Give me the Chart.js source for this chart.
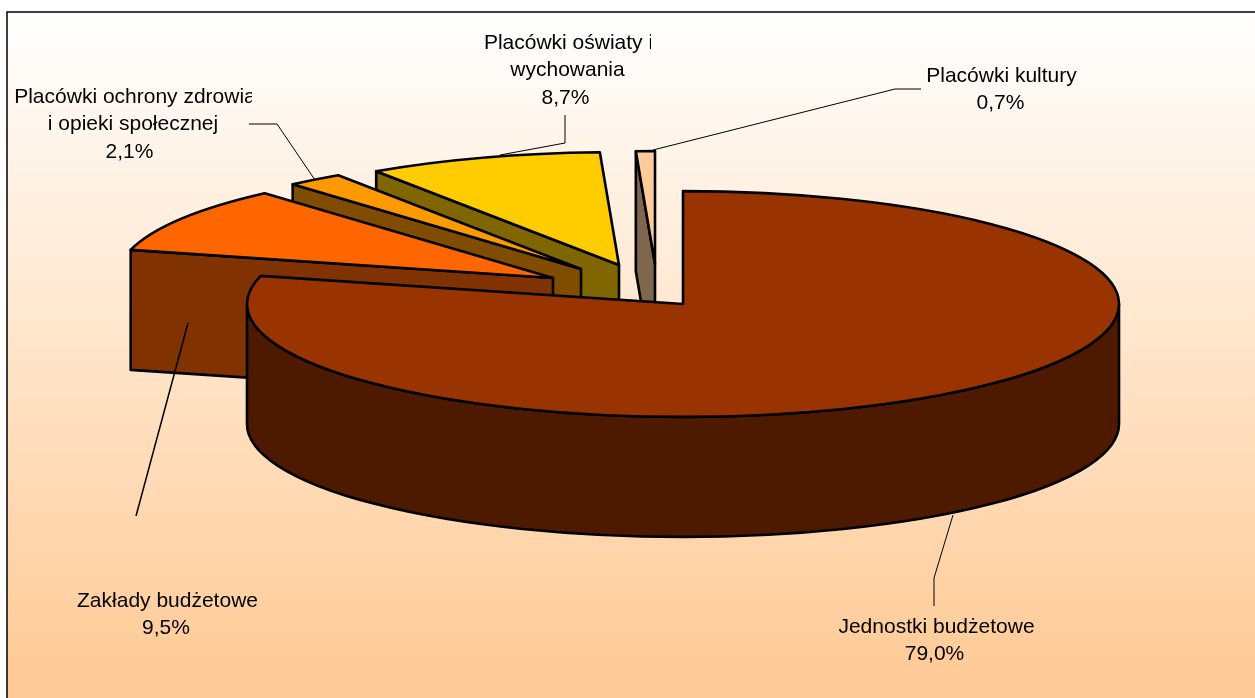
<!DOCTYPE html>
<html lang="pl">
<head>
<meta charset="utf-8">
<title>Wykres</title>
<style>
html,body{margin:0;padding:0;background:#fff;}
canvas{display:block;}
</style>
<script src="https://cdn.jsdelivr.net/npm/chart.js@4/dist/chart.umd.min.js"></script>
</head>
<body>
<canvas id="c" width="1255" height="698"></canvas>
<script>
// --- data ---
const categories = ['Jednostki budżetowe','Zakłady budżetowe','Placówki ochrony zdrowia i opieki społecznej','Placówki oświaty i wychowania','Placówki kultury'];
const shares = [79.0, 9.5, 2.1, 8.7, 0.7];

// --- style ---
const topColors  = ['#993300','#FF6600','#FF9900','#FFCC00','#FFCC99'];
const wallColors = ['#4D1A00','#803300','#804D00','#806600','#80664D'];
const TILT = 0.259, DEPTH = 120, RADIUS = 436;
const explodeShift = [[0,0],[-130,-26],[-102,-35],[-64,-39],[-28,-40]];
const labelLayout = [
  {lines:['Jednostki budżetowe'], x:936.5, y:627, clip:null, w:1, dx:[0,-2],
   leader:[[953,515],[934,578],[934,606]]},
  {lines:['Zakłady budżetowe'], x:167.5, y:601, clip:null, w:1.5, dx:[0,-1.5],
   leader:[[188,323],[136,516]]},
  {lines:['Placówki ochrony zdrowia','i opieki społecznej'], x:133, y:97, clip:[252,218], w:1, dx:[2,0,-3.5],
   leader:[[315,180],[277,124],[249,124]]},
  {lines:['Placówki oświaty i','wychowania'], x:567, y:43, clip:[651,651], w:1, dx:[1.5,0.5,-1.5],
   leader:[[500,155],[565,143],[565,115]]},
  {lines:['Placówki kultury'], x:1001.5, y:76, clip:null, w:1, dx:[0,-1],
   leader:[[653,150],[895,89],[921,89]]}
];
const LINE_H = 27.5;
const FONT = '21px "Liberation Sans", Arial, sans-serif';

const pie3d = {
  id:'pie3d',
  beforeDraw(chart){
    const {ctx,width,height} = chart;
    ctx.save();
    ctx.fillStyle = '#fff';
    ctx.fillRect(0,0,width,height);
    const g = ctx.createLinearGradient(0,12,0,660);
    g.addColorStop(0,'#FFFFFF');
    g.addColorStop(1,'#FFCC99');
    ctx.fillStyle = g;
    ctx.fillRect(7,12,width-7,height-12);
    ctx.strokeStyle = '#000';
    ctx.lineWidth = 1.5;
    ctx.beginPath();
    ctx.moveTo(7,height);ctx.lineTo(7,12);ctx.lineTo(width,12);
    ctx.stroke();
    ctx.restore();
  },
  beforeDatasetDraw(chart,args){
    const {ctx} = chart;
    const arcs = chart.getDatasetMeta(args.index).data;
    ctx.save();
    ctx.lineJoin = 'round';
    ctx.lineWidth = 2.6;
    ctx.strokeStyle = '#000';
    for(let i=arcs.length-1;i>=0;i--){
      const arc = arcs[i];
      const a0 = arc.startAngle, a1 = arc.endAngle, R = arc.outerRadius;
      const cx = arc.x+explodeShift[i][0], cy = arc.y+explodeShift[i][1];
      const px = a=>cx+R*Math.cos(a), py = a=>cy+R*TILT*Math.sin(a);
      ctx.fillStyle = wallColors[i];
      const quad = a=>{
        ctx.beginPath();
        ctx.moveTo(cx,cy);ctx.lineTo(px(a),py(a));
        ctx.lineTo(px(a),py(a)+DEPTH);ctx.lineTo(cx,cy+DEPTH);ctx.closePath();
        ctx.fill();ctx.stroke();
      };
      if(Math.sin(a0-Math.PI/2)>1e-6) quad(a0);
      if(Math.sin(a1+Math.PI/2)>1e-6) quad(a1);
      // outer wall, front half only
      const norm = 2*Math.PI;
      for(const k of [0,1]){
        const s = Math.max(a0,k*norm), e = Math.min(a1,k*norm+Math.PI);
        if(e>s){
          ctx.beginPath();
          ctx.ellipse(cx,cy,R,R*TILT,0,s,e);
          ctx.lineTo(px(e),py(e)+DEPTH);
          ctx.ellipse(cx,cy+DEPTH,R,R*TILT,0,e,s,true);
          ctx.closePath();
          ctx.fill();ctx.stroke();
        }
      }
      // top face, drawn by the library's arc element under the tilt transform
      ctx.save();
      ctx.translate(cx,cy);ctx.scale(1,TILT);ctx.translate(-arc.x,-arc.y);
      arc.draw(ctx);
      ctx.restore();
      ctx.beginPath();
      ctx.moveTo(cx,cy);
      ctx.ellipse(cx,cy,R,R*TILT,0,a0,a1);
      ctx.closePath();
      ctx.stroke();
    }
    ctx.restore();
    return false;
  },
  afterDatasetsDraw(chart){
    const {ctx} = chart;
    ctx.save();
    ctx.strokeStyle = '#000';
    labelLayout.forEach((l,i)=>{
      ctx.lineWidth = l.w;
      ctx.beginPath();
      l.leader.forEach((p,j)=> j?ctx.lineTo(p[0],p[1]):ctx.moveTo(p[0],p[1]));
      ctx.stroke();
      ctx.font = FONT;
      ctx.fillStyle = '#000';
      ctx.textAlign = 'center';
      ctx.textBaseline = 'middle';
      const rows = l.lines.concat([shares[i].toFixed(1).replace('.',',')+'%']);
      rows.forEach((t,j)=>{
        ctx.save();
        if(l.clip && j<l.clip.length){
          ctx.beginPath();ctx.rect(0,0,l.clip[j],698);ctx.clip();
        }
        ctx.fillText(t,l.x+l.dx[j],l.y+j*LINE_H);
        ctx.restore();
      });
    });
    ctx.restore();
  }
};

new Chart(document.getElementById('c'),{
  type:'pie',
  data:{labels:categories,datasets:[{data:shares,backgroundColor:topColors,borderWidth:0}]},
  options:{
    responsive:false,
    animation:false,
    radius:RADIUS,
    layout:{padding:{left:111,right:0,top:0,bottom:90}},
    plugins:{legend:{display:false},tooltip:{enabled:false}}
  },
  plugins:[pie3d]
});
</script>
</body>
</html>
